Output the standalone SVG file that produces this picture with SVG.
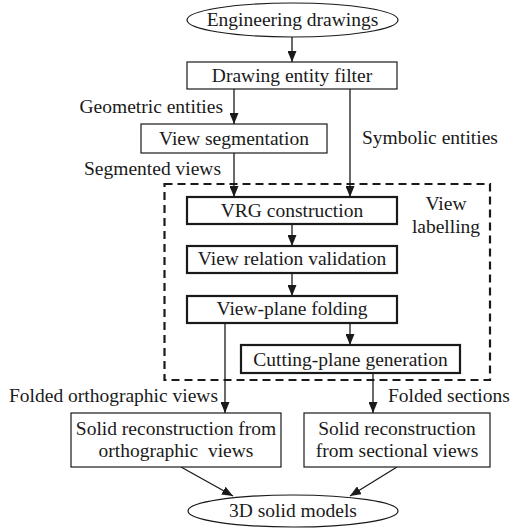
<svg xmlns="http://www.w3.org/2000/svg" width="510" height="528" viewBox="0 0 510 528">
<defs>
<marker id="ah" markerUnits="userSpaceOnUse" markerWidth="11" markerHeight="9" viewBox="0 0 11 9" refX="11" refY="4.5" orient="auto">
<path d="M0,0 L11,4.5 L0,9 Z" fill="#1a1a1a"/>
</marker>
<style>
text{font-family:"Liberation Serif","Times New Roman",serif;font-size:19.5px;fill:#1a1a1a;white-space:pre}
.c{text-anchor:middle}
.e{text-anchor:end}
.box{fill:#fff;stroke:#1a1a1a;stroke-width:1.2}
.tbox{fill:#fff;stroke:#1a1a1a;stroke-width:2.2}
.ell{fill:#fff;stroke:#1a1a1a;stroke-width:1.2}
.ar{fill:none;stroke:#1a1a1a;stroke-width:1.3;marker-end:url(#ah)}
.dash{fill:none;stroke:#1a1a1a;stroke-width:2.2;stroke-dasharray:8 5}
</style>
</defs>
<rect width="510" height="528" fill="#fff"/>
<g id="view-labelling">
<rect class="dash" x="164.5" y="184" width="325.5" height="196"/>
<text class="c" x="446" y="210">View</text>
<text class="c" x="446" y="233">labelling</text>
</g>
<g id="connectors">
<line class="ar" x1="292" y1="37" x2="292" y2="62"/>
<line class="ar" x1="234" y1="89" x2="234" y2="124"/>
<line class="ar" x1="234" y1="153" x2="234" y2="197"/>
<line class="ar" x1="350" y1="89" x2="350" y2="197"/>
<line class="ar" x1="292" y1="224" x2="292" y2="246"/>
<line class="ar" x1="292" y1="273" x2="292" y2="296"/>
<line class="ar" x1="350" y1="323" x2="350" y2="345"/>
<line class="ar" x1="225" y1="323" x2="225" y2="413"/>
<line class="ar" x1="373" y1="373" x2="373" y2="413"/>
<line class="ar" x1="181" y1="467" x2="233" y2="496"/>
<line class="ar" x1="397" y1="467" x2="350" y2="496"/>
<text class="e" x="223" y="113">Geometric entities</text>
<text x="362" y="144">Symbolic entities</text>
<text x="84" y="175">Segmented views</text>
<text x="9" y="402">Folded orthographic views</text>
<text x="388" y="402">Folded sections</text>
</g>
<g id="engineering-drawings">
<ellipse class="ell" cx="292.5" cy="20" rx="105.5" ry="17"/>
<text class="c" x="292.5" y="26">Engineering drawings</text>
</g>
<g id="drawing-entity-filter">
<rect class="box" x="187" y="62" width="210" height="27"/>
<text class="c" x="292" y="82">Drawing entity filter</text>
</g>
<g id="view-segmentation">
<rect class="box" x="141" y="124" width="186" height="29"/>
<text class="c" x="234" y="145">View segmentation</text>
</g>
<g id="vrg-construction">
<rect class="tbox" x="187" y="197" width="210" height="27"/>
<text class="c" x="292" y="217">VRG construction</text>
</g>
<g id="view-relation-validation">
<rect class="tbox" x="187" y="246" width="210" height="27"/>
<text class="c" x="292" y="265">View relation validation</text>
</g>
<g id="view-plane-folding">
<rect class="tbox" x="187" y="296" width="210" height="27"/>
<text class="c" x="292" y="315">View-plane folding</text>
</g>
<g id="cutting-plane-generation">
<rect class="tbox" x="241" y="345" width="219" height="28"/>
<text class="c" x="350.5" y="366">Cutting-plane generation</text>
</g>
<g id="solid-orthographic">
<rect class="box" x="71" y="413" width="210" height="54"/>
<text class="c" x="176" y="435">Solid reconstruction from</text>
<text class="c" x="176" y="457">orthographic  views</text>
</g>
<g id="solid-sectional">
<rect class="box" x="304" y="413" width="186" height="54"/>
<text class="c" x="397" y="435">Solid reconstruction</text>
<text class="c" x="397" y="457">from sectional views</text>
</g>
<g id="solid-models">
<ellipse class="ell" cx="293" cy="511" rx="105" ry="16"/>
<text class="c" x="293" y="517">3D solid models</text>
</g>
</svg>
